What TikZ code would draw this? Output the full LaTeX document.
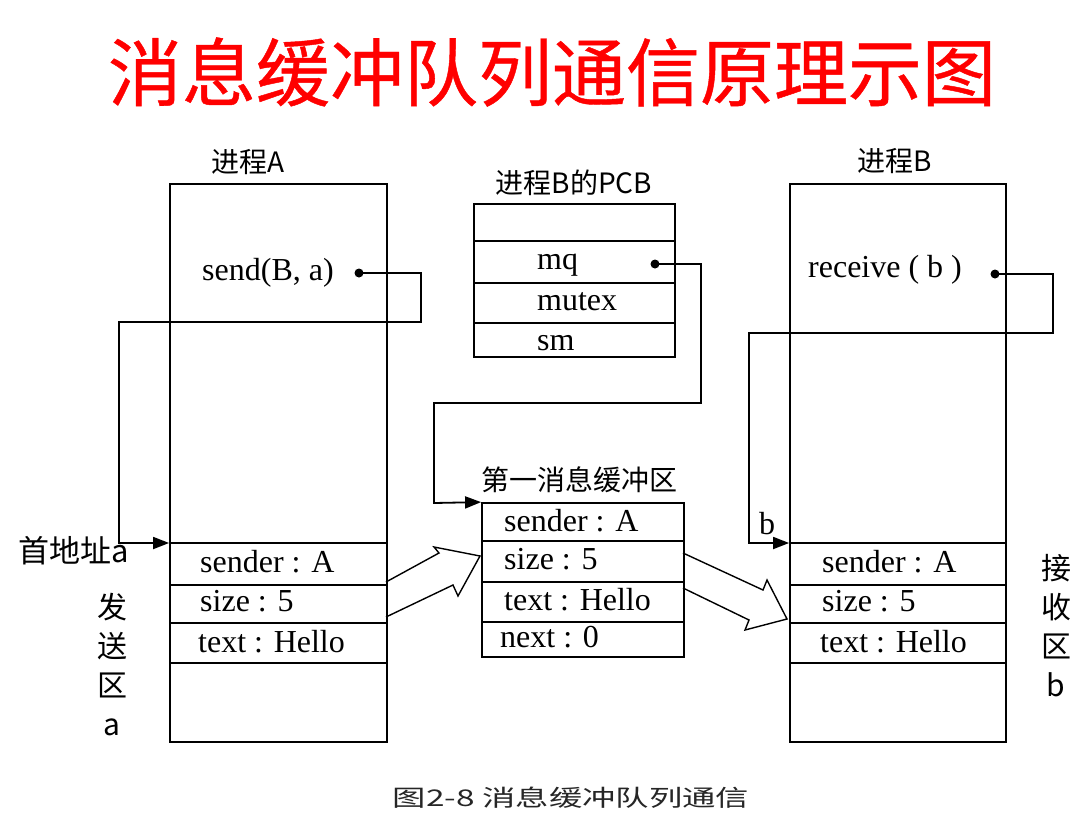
\documentclass[tikz,border=0pt]{standalone}
\usepackage{fontspec}
\setmainfont{Liberation Serif}
\newfontfamily\cjk{Noto Sans CJK SC}
\newfontfamily\cjktitle[FakeBold=0.6]{Noto Sans CJK SC}
\newfontfamily\cjkwide[FakeStretch=1.45]{Noto Sans CJK SC}
\usetikzlibrary{positioning,arrows.meta}
\tikzset{
  box/.style={draw, line width=1.8pt, inner sep=0pt},
  field/.style={anchor=west, inner sep=0pt, font=\fontsize{32}{36}\selectfont},
  tag/.style={inner sep=0pt, font=\cjk\fontsize{28}{30}\selectfont},
  side/.style={inner sep=0pt, align=center, font=\cjk\fontsize{30}{39}\selectfont},
  link/.style={line width=1.8pt},
  dot/.style={circle, fill, inner sep=0pt, minimum size=9pt},
  hollow/.style={line width=1.4pt, line join=miter},
}
\begin{document}
\begin{tikzpicture}[x=1pt,y=-1pt,>={Triangle[length=16pt,width=12pt]}]
\useasboundingbox (0,0) rectangle (1087,833);
\node[inner sep=0pt, text=red, font=\cjktitle\fontsize{74}{80}\selectfont] (title) at (552,72) {消息缓冲队列通信原理示图};
% boxes
\node[box, minimum width=217pt, minimum height=558pt] (procA) at (278.5,463) {};
\node[box, minimum width=201pt, minimum height=153pt] (pcb) at (574.5,280.5) {};
\node[box, minimum width=202pt, minimum height=154pt] (buf) at (583,580) {};
\node[box, minimum width=216pt, minimum height=558pt] (procB) at (898,463) {};
\foreach \y in {543,585,623,663}{
  \draw[link] (procA.west |- 0,\y) -- (procA.east |- 0,\y);
  \draw[link] (procB.west |- 0,\y) -- (procB.east |- 0,\y);
}
\foreach \y in {241,283,323}{\draw[link] (pcb.west |- 0,\y) -- (pcb.east |- 0,\y);}
\foreach \y in {541,582,622}{\draw[link] (buf.west |- 0,\y) -- (buf.east |- 0,\y);}
% titles
\node[tag] (tA) at (248,162) {进程A};
\node[tag] (tB) at (895,161) {进程B};
\node[tag] (tPcb) at (574,183) {进程B的PCB};
\node[tag] (tBuf) at (579,480) {第一消息缓冲区};
% process A
\node[field] (sendA) at (202,273) {send(B, a)};
\node[dot] (sendDot) at (359,273) {};
\node[field] (aSender) at (200,562) {sender : A};
\node[field] (aSize) at (200,601) {size : 5};
\node[field] (aText) at (198,642) {text : Hello};
\node[inner sep=0pt, font=\cjk\fontsize{31}{34}\selectfont] (addrA) at (74,551) {首地址a};
\node[side] (sendArea) at (112,665) {发\\送\\区\\a};
% PCB
\node[field] (mq) at (537,265) {mq};
\node[dot] (mqDot) at (655,264) {};
\node[field] (mutex) at (537,302) {mutex};
\node[field] (sm) at (537,343) {sm};
% buffer
\node[field] (bufSender) at (504,521) {sender : A};
\node[field] (bufSize) at (504,559) {size : 5};
\node[field] (bufText) at (504,600) {text : Hello};
\node[field] (bufNext) at (500,637) {next : 0};
% process B
\node[field] (recvB) at (808,270) {receive ( b )};
\node[dot] (recvDot) at (995,274) {};
\node[field] (bSender) at (822,562) {sender : A};
\node[field] (bSize) at (822,601) {size : 5};
\node[field] (bText) at (820,642) {text : Hello};
\node[field, anchor=center] (bTag) at (767,524) {b};
\node[side] (recvArea) at (1056,626) {接\\收\\区\\b};
% links
\coordinate (aIn) at (procA.west |- 0,543);
\coordinate (bIn) at (procB.west |- 0,543);
\draw[link,->] (sendDot.center) -| (421,322) -| (119,543) -- (aIn);
\draw[link,->] (mqDot.center) -| (701,403) -| (434,503) -- (buf.north west);
\draw[link,->] (recvDot.center) -| (1053,333) -| (749,543) -- (bIn);
% copy arrows
\draw[hollow] (386,582) -- (439,553) -- (434,547) -- (480,556) -- (458,596) -- (453,585) -- (386,617);
\draw[hollow] (683,553) -- (763,590) -- (767,580) -- (787,619) -- (745,630) -- (749,620) -- (683,588);
\node[inner sep=0pt, text=black!85, font=\cjkwide\fontsize{23}{26}\selectfont] (caption) at (571,798) {图2-8 消息缓冲队列通信};
\end{tikzpicture}
\end{document}
